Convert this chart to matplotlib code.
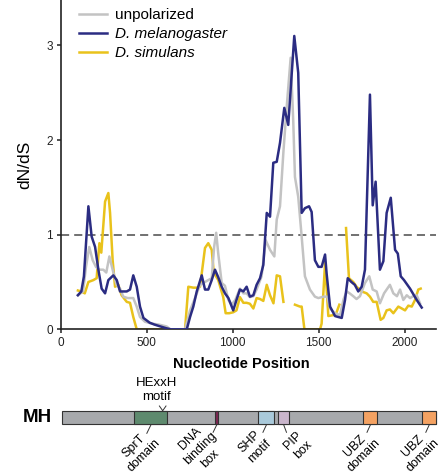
import numpy as np
import matplotlib
matplotlib.use('Agg')
import matplotlib.pyplot as plt
from matplotlib.patches import Rectangle
from matplotlib.lines import Line2D

plt.rcParams['font.family'] = ['Liberation Sans', 'DejaVu Sans']

#### dN/dS sliding window values
unpol_x = [100, 130, 147, 166, 186, 205, 225, 248, 265, 283, 302, 325, 345, 364, 390, 422, 442, 461,
           490, 530, 570, 616, 636, 700, 723, 752, 781, 810, 839, 858, 878, 892, 904, 916, 936, 955,
           975, 994, 1015, 1042, 1062, 1081, 1100, 1120, 1139, 1168, 1192, 1217, 1242, 1256, 1275,
           1295, 1314, 1337, 1352, 1362, 1381, 1401, 1420, 1449, 1478, 1498, 1527, 1550, 1566, 1595,
           1624, 1645, 1663, 1680, 1701, 1720, 1740, 1769, 1794, 1814, 1837, 1856, 1880, 1914, 1934,
           1955, 1973, 1992, 2012, 2031, 2050, 2070, 2089]
unpol_y = [0.36, 0.40, 0.66, 0.87, 0.73, 0.66, 0.63, 0.63, 0.60, 0.77, 0.63, 0.47, 0.43, 0.345, 0.33,
           0.33, 0.24, 0.13, 0.08, 0.06, 0.05, 0.03, 0.0, 0.0, 0.0, 0.20, 0.33, 0.47, 0.50, 0.52, 0.54,
           0.87, 1.02, 0.80, 0.49, 0.46, 0.31, 0.26, 0.31, 0.43, 0.38, 0.38, 0.34, 0.35, 0.42, 0.56,
           0.94, 0.84, 0.77, 1.16, 1.30, 1.88, 2.35, 2.87, 2.20, 1.61, 1.40, 0.98, 0.56, 0.42, 0.345,
           0.33, 0.345, 0.345, 0.22, 0.17, 0.15, 0.32, 0.40, 0.38, 0.35, 0.32, 0.35, 0.49, 0.56, 0.42,
           0.40, 0.275, 0.38, 0.47, 0.38, 0.35, 0.42, 0.31, 0.36, 0.33, 0.35, 0.36, 0.275]

mel_x = [100, 120, 135, 161, 180, 200, 219, 238, 258, 277, 306, 326, 345, 364, 384, 403, 422, 442,
         461, 481, 517, 545, 580, 616, 640, 733, 752, 771, 791, 820, 839, 858, 878, 897, 916, 936,
         955, 975, 1003, 1022, 1042, 1062, 1081, 1100, 1120, 1139, 1159, 1178, 1198, 1217, 1236,
         1256, 1275, 1300, 1323, 1358, 1381, 1401, 1420, 1444, 1459, 1478, 1498, 1517, 1537, 1546,
         1566, 1595, 1614, 1634, 1653, 1669, 1690, 1710, 1730, 1750, 1769, 1785, 1798, 1814, 1831,
         1856, 1876, 1895, 1919, 1944, 1960, 1977, 1996, 2031, 2070, 2099]
mel_y = [0.36, 0.40, 0.56, 1.30, 0.98, 0.87, 0.63, 0.43, 0.38, 0.52, 0.57, 0.52, 0.40, 0.40, 0.40,
         0.42, 0.57, 0.45, 0.24, 0.12, 0.07, 0.05, 0.03, 0.01, 0.0, 0.0, 0.13, 0.24, 0.40, 0.57, 0.42,
         0.42, 0.52, 0.63, 0.55, 0.45, 0.38, 0.33, 0.20, 0.31, 0.42, 0.40, 0.45, 0.345, 0.36, 0.47,
         0.54, 0.68, 1.23, 1.19, 1.76, 1.77, 1.97, 2.34, 2.16, 3.10, 2.71, 1.23, 1.28, 1.30, 1.24,
         0.73, 0.66, 0.66, 0.79, 0.59, 0.24, 0.14, 0.13, 0.12, 0.31, 0.54, 0.50, 0.47, 0.40, 0.45,
         0.63, 1.65, 2.48, 1.31, 1.56, 0.63, 0.72, 1.23, 1.39, 0.84, 0.80, 0.56, 0.52, 0.43, 0.31,
         0.23]

sim_x = [100, 120, 140, 161, 190, 209, 225, 236, 258, 277, 287, 302, 316, 335, 354, 384, 403, 422,
         442, 723, 742, 771, 794, 810, 839, 858, 878, 890, 916, 945, 959, 980, 1003, 1022, 1042, 1062,
         1081, 1100, 1120, 1139, 1159, 1178, 1198, 1217, 1237, 1256, 1275, 1295, 1320, 1362, 1391,
         1401, 1417, 1508, 1517, 1537, 1556, 1585, 1602, 1620, 1640, 1659, 1676, 1701, 1720, 1750,
         1779, 1798, 1817, 1837, 1860, 1876, 1895, 1914, 1934, 1963, 1983, 2002, 2021, 2041, 2060,
         2079, 2093]
sim_y = [0.41, 0.40, 0.38, 0.50, 0.52, 0.54, 0.91, 0.81, 1.35, 1.44, 1.23, 0.73, 0.45, 0.47, 0.36,
         0.29, 0.28, 0.13, 0.0, 0.0, 0.45, 0.44, 0.44, 0.45, 0.86, 0.91, 0.84, 0.60, 0.52, 0.34, 0.17,
         0.17, 0.18, 0.20, 0.34, 0.28, 0.28, 0.27, 0.22, 0.33, 0.32, 0.30, 0.47, 0.36, 0.275, 0.57,
         0.56, 0.29, np.nan, 0.26, 0.24, 0.24, 0.0, 0.0, 0.06, 0.70, 0.14, 0.15, 0.17, 0.26, np.nan,
         1.07, 0.54, 0.50, 0.45, 0.40, 0.38, 0.345, 0.29, 0.29, 0.10, 0.12, 0.20, 0.21, 0.17, 0.24,
         0.22, 0.20, 0.25, 0.24, 0.31, 0.42, 0.43]

series_labels = ['unpolarized', 'D. melanogaster', 'D. simulans']

#### protein domains (nucleotide coordinates)
protein_name = 'MH'
protein_len = [6, 2182]
domain_names = ['SprT\ndomain', 'DNA\nbinding\nbox', 'SHP\nmotif', 'PIP\nbox', 'UBZ\ndomain', 'UBZ\ndomain']
domain_start = [428, 897, 1149, 1265, 1759, 2102]
domain_end = [620, 916, 1242, 1329, 1841, 2182]
motif_name = 'HExxH\nmotif'
motif_pos = 593

GREY = '#c3c3c3'
BLUE = '#2b2c82'
YELLOW = '#e9c21b'
domain_colors = ['#5e8a6e', '#7b2651', '#a9c9da', '#c9b5cb', '#f4a262', '#f4a262']

W, H = 440, 475
fig = plt.figure(figsize=(W / 100, H / 100), dpi=100)

ax_l, ax_r, ax_b = 60.7, 436, 329.3
ax = fig.add_axes([ax_l / W, 1 - ax_b / H, (ax_r - ax_l) / W, ax_b / H])
ax.axhline(1, color='#666666', lw=1.3, ls=(0, (4.5, 2.8)), zorder=1)
ax.plot(sim_x, sim_y, color=YELLOW, lw=1.8, zorder=2)
ax.plot(unpol_x, unpol_y, color=GREY, lw=1.8, zorder=3)
ax.plot(mel_x, mel_y, color=BLUE, lw=1.8, zorder=4)

ax.set_xlim(0, 2182)
ax.set_ylim(0, 3.48)
ax.set_xticks([0, 500, 1000, 1500, 2000])
ax.set_yticks([0, 1, 2, 3])
for s in ['top', 'right']:
    ax.spines[s].set_visible(False)
for s in ['left', 'bottom']:
    ax.spines[s].set_linewidth(1.2)
    ax.spines[s].set_color('#222222')
ax.tick_params(direction='out', length=3, width=1.1, labelsize=8.5, colors='#222222', pad=2.5)
ax.set_xlabel('Nucleotide Position', fontsize=10.5, fontweight='bold', labelpad=2)
ax.xaxis.set_label_coords(0.48, -0.085)
ax.set_ylabel('dN/dS', fontsize=12.5)
ax.yaxis.set_label_coords(-0.075, 0.5)

handles = [Line2D([], [], color=c, lw=1.8) for c in [GREY, BLUE, YELLOW]]
leg = ax.legend(handles, series_labels, loc='upper left', bbox_to_anchor=(0.048, 0.975),
                frameon=False, fontsize=11, handlelength=1.85, handletextpad=0.55,
                labelspacing=0.32, borderaxespad=0, borderpad=0)
for t in leg.get_texts()[1:]:
    t.set_style('italic')

#### domain diagram, y in pixel rows of the figure
ax2 = fig.add_axes([ax_l / W, 0, (ax_r - ax_l) / W, 140 / H])
ax2.set_xlim(0, 2182)
ax2.set_ylim(H, H - 140)
ax2.axis('off')
nt_per_px = 2182 / (ax_r - ax_l)

bar_top, bar_h = 410.7, 13.6
bar_bot = bar_top + bar_h
ax2.add_patch(Rectangle((protein_len[0], bar_top), protein_len[1] - protein_len[0], bar_h,
                        fc='#a7a9ac', ec='#333333', lw=0.8, clip_on=False))
for s, e, c in zip(domain_start, domain_end, domain_colors):
    ax2.add_patch(Rectangle((s, bar_top), e - s, bar_h, fc=c, ec='#333333', lw=0.8, clip_on=False))

fig.text(37 / W, 1 - 418 / H, protein_name, fontsize=13.5, fontweight='bold', ha='center', va='center')

ax2.text(motif_pos - 6 * nt_per_px, 390, motif_name, ha='center', va='center', fontsize=9.5,
         linespacing=1.25)
ax2.plot([motif_pos - 3.3 * nt_per_px, motif_pos, motif_pos + 3.3 * nt_per_px],
         [406, bar_top, 406], color='#333333', lw=0.7, clip_on=False)

# leader offsets and label centre offsets in px
leader = [(-4, 9), (-3.5, 8), (-3.4, 8), (2.7, 8), (-3.3, 8), (-3.3, 8)]
label_off = [(-12, 26.5), (-16.5, 24.5), (-12, 22.5), (14.5, 21), (-11, 26.5), (-11.5, 26.5)]
for name, s, e, (lx, ly), (tx, ty) in zip(domain_names, domain_start, domain_end, leader, label_off):
    c = (s + e) / 2
    ax2.plot([c, c + lx * nt_per_px], [bar_bot + 0.8, bar_bot + ly], color='#333333', lw=0.7,
             clip_on=False)
    ax2.text(c + tx * nt_per_px, bar_bot + ty, name, rotation=45, rotation_mode='anchor',
             ha='center', va='center', multialignment='center', fontsize=9, linespacing=1.2,
             clip_on=False)

fig.savefig('out.png', dpi=100)
